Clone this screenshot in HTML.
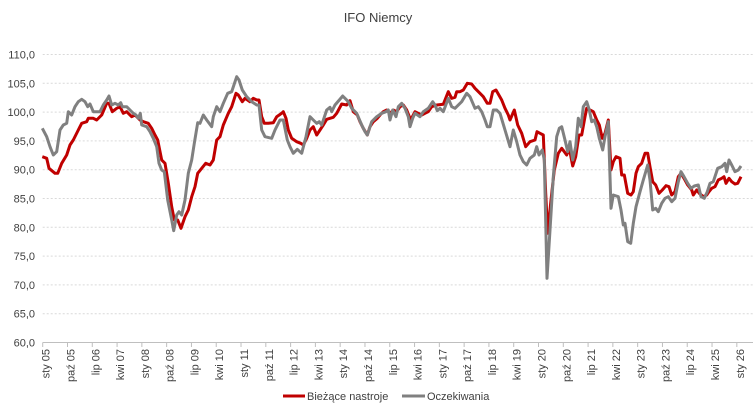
<!DOCTYPE html>
<html><head><meta charset="utf-8"><style>
html,body{margin:0;padding:0;background:#fff;}
svg{display:block;font-family:"Liberation Sans",sans-serif;}
</style></head><body>
<svg id="s" width="755" height="408" viewBox="0 0 755 408" xmlns="http://www.w3.org/2000/svg">
<rect width="755" height="408" fill="#fff"/>
<text x="378" y="22" text-anchor="middle" font-size="13" fill="#404040">IFO Niemcy</text>
<g id="grid"></g>
<g id="lines"></g>
<line x1="283" y1="396" x2="305" y2="396" stroke="#c00000" stroke-width="3"/>
<text x="307" y="400" font-size="11" fill="#404040">Bieżące nastroje</text>
<line x1="402" y1="396" x2="425" y2="396" stroke="#808080" stroke-width="3"/>
<text x="427" y="400" font-size="11" fill="#404040">Oczekiwania</text>
</svg>
<script>
var NS="http://www.w3.org/2000/svg",g=document.getElementById("grid"),L=document.getElementById("lines");
function el(t,a,p,tx){var e=document.createElementNS(NS,t);for(var k in a)e.setAttribute(k,a[k]);if(tx)e.textContent=tx;p.appendChild(e);return e;}
for(var i=0;i<=10;i++){var v=60+5*i,y=342.5-i*28.8;
 if(i>0)el("line",{x1:42.7,x2:753,y1:y,y2:y,stroke:"#d9d9d9","stroke-dasharray":"2,2","stroke-width":1},g);
 el("text",{x:35,y:y+4,"text-anchor":"end","font-size":11,fill:"#404040"},g,v.toFixed(1).replace(".",","));}
el("line",{x1:42.7,x2:753,y1:342.5,y2:342.5,stroke:"#bfbfbf"},g);
var labs=["sty 05","paź 05","lip 06","kwi 07","sty 08","paź 08","lip 09","kwi 10","sty 11","paź 11","lip 12","kwi 13","sty 14","paź 14","lip 15","kwi 16","sty 17","paź 17","lip 18","kwi 19","sty 20","paź 20","lip 21","kwi 22","sty 23","paź 23","lip 24","kwi 25","sty 26"];
for(var k=0;k<labs.length;k++){var x=42.7+k*24.79;
 el("line",{x1:x,x2:x,y1:342.5,y2:347,stroke:"#bfbfbf"},g);
 el("text",{x:0,y:0,transform:"translate("+(x+7)+",349) rotate(-90)","text-anchor":"end","font-size":11,fill:"#404040"},g,labs[k]);}
function P(pts,ox,oy,xmin,xmax){return pts.map(function(p){return [ox+p[0]/3,oy+p[1]/3];}).filter(function(q){return q[0]>=xmin&&q[0]<xmax;}).map(function(q){return q[0].toFixed(1)+","+q[1].toFixed(1);}).join(" ");}
var r1=[[22,290],[35,295],[42,325],[60,340],[68,340],[80,310],[95,285],[105,255],[115,240],[130,210],[140,190],[155,185],[160,175],[175,175],[185,180],[200,165],[215,130],[222,130],[232,155],[245,145],[255,140],[265,160],[275,155],[290,170],[300,165],[315,180],[325,185],[340,190],[350,205],[360,225],[368,240],[380,300],[390,310],[400,370],[410,440],[418,480],[428,480],[438,505],[450,470],[460,450],[470,410],[480,380],[488,340],[500,325],[512,310],[525,315],[535,300],[545,240],[555,230],[565,195],[580,160],[590,140],[603,100],[610,105],[622,125],[630,115],[645,125],[655,115],[665,120],[672,120],[680,170],[688,190],[700,190],[715,188],[725,170],[740,160],[748,155]];
var g1=[[22,205],[35,230],[45,260],[55,285],[65,275],[75,210],[85,195],[95,190],[100,155],[110,165],[120,140],[130,125],[140,118],[150,125],[158,140],[165,132],[175,155],[195,155],[205,135],[215,120],[222,108],[230,135],[240,130],[250,135],[257,128],[262,140],[275,140],[285,150],[295,160],[303,165],[310,175],[316,160],[320,195],[335,200],[345,215],[355,235],[365,260],[372,310],[380,330],[388,335],[398,420],[410,480],[416,512],[425,465],[432,455],[440,465],[450,420],[460,340],[470,300],[478,250],[488,188],[495,190],[505,165],[515,180],[530,200],[535,170],[545,140],[555,155],[565,130],[578,100],[590,95],[605,50],[612,60],[622,90],[635,110],[650,125],[665,135],[672,135],[680,210],[690,230],[710,235],[720,210],[735,180],[748,175]];
var r2=[[0,160],[10,155],[18,175],[25,210],[35,235],[50,245],[62,250],[70,255],[80,235],[90,210],[100,200],[110,225],[120,210],[130,195],[140,178],[160,172],[170,160],[185,132],[200,135],[210,122],[220,155],[232,165],[240,185],[250,205],[262,225],[270,200],[280,185],[292,175],[300,165],[310,155],[320,150],[330,160],[340,150],[350,155],[360,140],[370,135],[380,150],[392,180],[405,155],[415,160],[425,165],[435,160],[445,155],[455,140],[470,135],[490,133],[505,95],[515,115],[525,112],[530,95],[540,95],[550,90],[562,70],[575,72],[585,85],[600,100],[610,110],[622,130],[630,130],[638,95],[648,90],[665,120],[675,145],[685,170],[693,175],[705,150],[715,190],[725,220],[735,258],[748,245]];
var g2=[[0,178],[10,180],[22,240],[30,260],[40,280],[52,268],[65,280],[78,230],[90,170],[100,180],[110,190],[118,185],[125,195],[140,150],[150,142],[155,155],[165,135],[178,120],[188,108],[195,115],[205,125],[215,145],[230,160],[245,195],[255,215],[262,225],[275,185],[290,170],[305,160],[318,155],[325,150],[330,180],[338,150],[348,170],[355,140],[365,130],[375,145],[385,170],[390,200],[398,175],[405,160],[420,170],[430,155],[445,145],[458,125],[465,135],[472,152],[480,145],[490,155],[505,115],[515,140],[525,145],[545,125],[560,100],[570,110],[585,145],[595,140],[605,155],[615,180],[622,200],[630,200],[640,150],[650,150],[660,160],[675,210],[685,255],[692,258],[705,210],[715,245],[725,290],[735,310],[748,300]];
var r3=[[0,140],[10,165],[15,180],[28,150],[38,195],[50,220],[62,260],[75,245],[90,240],[96,215],[105,220],[115,225],[122,400],[128,520],[138,420],[148,330],[160,280],[170,265],[178,275],[185,285],[193,265],[203,318],[212,290],[222,225],[230,225],[240,170],[245,145],[255,150],[265,155],[275,180],[283,195],[292,235],[300,220],[310,180],[318,330],[325,305],[333,290],[345,295],[350,345],[358,345],[368,400],[378,405],[385,395],[393,340],[400,320],[410,310],[420,280],[428,280],[435,320],[443,365],[452,375],[462,400],[472,390],[483,377],[492,380],[500,405],[510,395],[520,350],[528,340],[537,355],[548,375],[560,390],[565,405],[575,390],[583,400],[595,410],[605,405],[612,395],[620,385],[630,380],[640,360],[650,355],[657,350],[663,370],[672,355],[680,365],[690,372],[698,370],[708,350]];
var g3=[[0,205],[8,250],[15,260],[25,210],[35,245],[45,285],[55,305],[65,315],[75,295],[88,285],[95,260],[102,285],[112,270],[118,300],[126,655],[135,510],[145,350],[155,230],[163,205],[170,200],[180,240],[188,275],[195,245],[203,300],[212,260],[220,175],[228,200],[235,140],[245,125],[253,150],[260,185],[268,180],[275,200],[283,235],[293,270],[300,230],[310,185],[318,445],[325,405],[340,410],[348,450],[355,495],[360,490],[368,545],[377,550],[385,490],[393,440],[405,395],[415,360],[428,315],[435,360],[443,450],[452,445],[460,455],[470,430],[480,415],[490,410],[500,425],[510,415],[520,365],[528,335],[537,350],[548,370],[558,385],[568,378],[580,375],[588,410],[598,415],[607,395],[615,370],[625,365],[638,325],[650,320],[660,310],[665,335],[672,300],[680,315],[690,335],[700,330],[708,318]];
var red=P(r1,35,60,0,283)+" "+P(r2,280,60,283,508)+" "+P(r3,505,60,508,999);
var gray=P(g1,35,60,0,283)+" "+P(g2,280,60,283,508)+" "+P(g3,505,60,508,999);
el("polyline",{points:red,fill:"none",stroke:"#c00000","stroke-width":3,"stroke-linejoin":"round"},L);
el("polyline",{points:gray,fill:"none",stroke:"#808080","stroke-width":3,"stroke-linejoin":"round"},L);
</script>
</body></html>
